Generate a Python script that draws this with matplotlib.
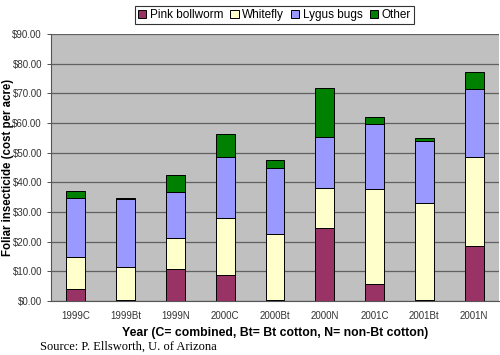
import numpy as np
import matplotlib
matplotlib.use("Agg")
import matplotlib.pyplot as plt

# categories and stacked segment values ($ per acre)
categories = ["1999C", "1999Bt", "1999N", "2000C", "2000Bt", "2000N", "2001C", "2001Bt", "2001N"]
pink_bollworm = [3.9, 0.45, 10.8, 8.7, 0.2, 24.5, 5.8, 0.2, 18.4]
whitefly = [10.8, 11.05, 10.3, 19.4, 22.3, 13.5, 32.0, 32.8, 30.0]
lygus_bugs = [20.1, 22.8, 15.5, 20.6, 22.4, 17.2, 22.0, 21.0, 23.2]
other = [2.4, 0.3, 5.8, 7.7, 2.6, 16.6, 2.4, 1.1, 5.7]

series = [("Pink bollworm", pink_bollworm, "#993366"),
          ("Whitefly", whitefly, "#ffffcc"),
          ("Lygus bugs", lygus_bugs, "#9999ff"),
          ("Other", other, "#008000")]

plt.rcParams['font.family'] = ['Liberation Sans', 'DejaVu Sans']

fig = plt.figure(figsize=(5, 3.55), dpi=100)
ax = fig.add_axes([0.102, 0.152, 0.896, 0.752])
ax.set_facecolor("#c0c0c0")

x = np.arange(len(categories))
bottom = np.zeros(len(categories))
handles = []
for name, vals, col in series:
    b = ax.bar(x, vals, 0.38, bottom=bottom, color=col, edgecolor="black",
               linewidth=0.7, label=name, zorder=3)
    handles.append(b)
    bottom += np.array(vals)

ax.set_xlim(-0.5, len(categories) - 0.5)
ax.set_ylim(0, 90)
ax.set_yticks(np.arange(0, 91, 10))
ax.set_yticklabels(["${:.2f}".format(v) for v in np.arange(0, 91, 10)])
ax.set_xticks(x)
ax.set_xticklabels(categories)
ax.yaxis.grid(True, color="#606060", linewidth=0.9, zorder=1)
ax.set_axisbelow(True)
ax.tick_params(axis="both", labelsize=7, colors="#333333", length=3, width=0.6)
ax.tick_params(axis="x", length=0, pad=7)
for s in ["top", "right"]:
    ax.spines[s].set_visible(False)
ax.spines["left"].set_color("#555555")
ax.spines["bottom"].set_color("#555555")

ax.set_xlabel("Year (C= combined, Bt= Bt cotton, N= non-Bt cotton)",
              fontsize=8.8, fontweight="bold", va="center")
ax.xaxis.set_label_coords(0.5, -0.12)
ax.set_ylabel("Foliar insecticide (cost per acre)", fontsize=8.3,
              fontweight="bold", va="center")
ax.yaxis.set_label_coords(-0.095, 0.5)

leg = fig.legend(handles=handles, loc="upper center", bbox_to_anchor=(0.549, 1.0),
                 ncol=4, fontsize=8.5, frameon=True, fancybox=False,
                 edgecolor="black", handlelength=0.7, handleheight=0.7,
                 handletextpad=0.3, columnspacing=0.6, borderpad=0.25)
leg.get_frame().set_linewidth(0.8)

fig.text(0.08, 0.022, "Source: P. Ellsworth, U. of Arizona", fontsize=9,
         va="center", family=["Liberation Serif", "DejaVu Serif"])

fig.savefig("out.png", dpi=100)
